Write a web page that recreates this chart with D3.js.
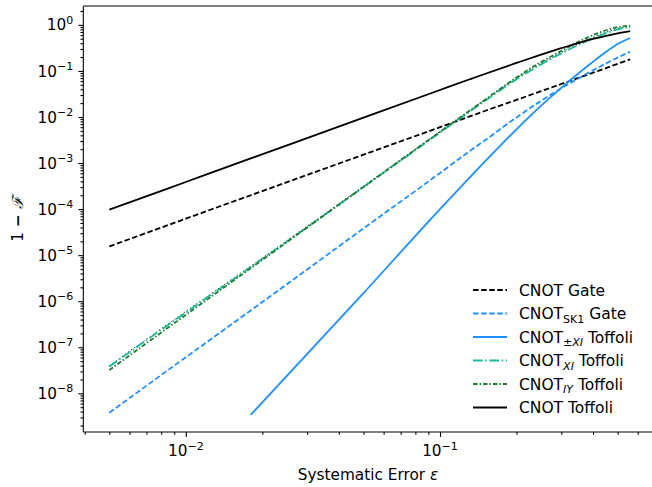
<!DOCTYPE html>
<html>
<head>
<meta charset="utf-8">
<script src="https://cdn.jsdelivr.net/npm/d3@7"></script>
<style>
  body { margin: 0; background: #fff; }
  svg { font-family: "DejaVu Sans", sans-serif; }
</style>
</head>
<body>
<script>
// systematic error values (x) shared by every series
const eps = [0.005, 0.01, 0.018, 0.05, 0.1, 0.131, 0.15, 0.2, 0.25, 0.3, 0.35, 0.4, 0.45, 0.5, 0.56];

// 1 - F
const cnotGate    = [1.55e-5, 6.2e-5, 2.0e-4, 1.52e-3, 6.0e-3, 1.03e-2, 1.35e-2, 2.35e-2, 3.65e-2, 5.2e-2, 7.05e-2, 9.16e-2, 0.1153, 0.143, 0.179];
const cnotSK1Gate = [3.8e-9, 6.08e-8, 6.3e-7, 3.8e-5, 6.08e-4, 1.83e-3, 3.1e-3, 9.8e-3, 0.0225, 0.042, 0.0688, 0.1034, 0.1456, 0.1945, 0.261];
const cnotPmXI    = [null, null, 3.4e-9, 1.5e-6, 1.0e-4, 4.9e-4, 1.07e-3, 5.4e-3, 0.0176, 0.043, 0.088, 0.158, 0.26, 0.385, 0.52];
const cnotXI      = [3.8e-8, 5.7e-7, 5.5e-6, 3.0e-4, 4.6e-3, 0.0132, 0.0222, 0.066, 0.139, 0.240, 0.367, 0.512, 0.66, 0.794, 0.894];
const cnotIY      = [3.2e-8, 5.05e-7, 5.2e-6, 3.03e-4, 4.75e-3, 0.0138, 0.0235, 0.072, 0.157, 0.271, 0.43, 0.60, 0.764, 0.895, 0.963];
const cnotToffoli = [9.7e-5, 3.88e-4, 1.257e-3, 9.7e-3, 0.0386, 0.0659, 0.0859, 0.149, 0.226, 0.312, 0.403, 0.494, 0.58, 0.656, 0.733];

const xMajor = [0.01, 0.1];
const yMajor = [1e-8, 1e-7, 1e-6, 1e-5, 1e-4, 1e-3, 1e-2, 1e-1, 1];

const series = [
  {name: "CNOT", sub: "", rest: " Gate", v: cnotGate, color: "#000", dash: "5.5,2.6"},
  {name: "CNOT", sub: "SK1", subItalic: false, rest: " Gate", v: cnotSK1Gate, color: "#1e8fff", dash: "5.5,2.6"},
  {name: "CNOT", sub: "±XI", subItalic: true, rest: " Toffoli", v: cnotPmXI, color: "#1e8fff", dash: null},
  {name: "CNOT", sub: "XI", subItalic: true, rest: " Toffoli", v: cnotXI, color: "#1abc9c", dash: "9.6,2.6,1.6,2.6"},
  {name: "CNOT", sub: "IY", subItalic: true, rest: " Toffoli", v: cnotIY, color: "#1e7b34", dash: "4.5,2,1.5,2"},
  {name: "CNOT", sub: "", rest: " Toffoli", v: cnotToffoli, color: "#000", dash: null}
];

const svg = d3.select("body").append("svg")
  .attr("width", 652)
  .attr("height", 487);

const mLeft = 83.3, mRight = 654, mTop = 6, mBottom = 432;

const x = d3.scaleLog().domain([0.00395, 0.695]).range([mLeft, mRight]);
const y = d3.scaleLog().domain([Math.pow(10, -8.84), Math.pow(10, 0.41)]).range([mBottom, mTop]);

// minor ticks 2..9 per decade
let xMinor = [], yMinor = [];
for (let p = -3; p <= 0; p++) for (let k = 2; k <= 9; k++) {
  const v = k * Math.pow(10, p);
  if (v > x.domain()[0] && v < x.domain()[1]) xMinor.push(v);
}
for (let p = -9; p <= 0; p++) for (let k = 2; k <= 9; k++) {
  const v = k * Math.pow(10, p);
  if (v > y.domain()[0] && v < y.domain()[1]) yMinor.push(v);
}

const axes = svg.append("g");
axes.append("g").attr("transform", `translate(0,${mBottom})`)
  .call(d3.axisBottom(x).tickValues(xMajor).tickSize(4.9).tickFormat(""));
axes.append("g").attr("transform", `translate(0,${mBottom})`)
  .call(d3.axisBottom(x).tickValues(xMinor).tickSize(2.8).tickFormat(""));
axes.append("g").attr("transform", `translate(${mLeft},0)`)
  .call(d3.axisLeft(y).tickValues(yMajor).tickSize(4.9).tickFormat(""));
axes.append("g").attr("transform", `translate(${mLeft},0)`)
  .call(d3.axisLeft(y).tickValues(yMinor).tickSize(2.8).tickFormat(""));
axes.selectAll(".domain").remove();
axes.selectAll(".tick line").attr("stroke", "#000").attr("stroke-width", 1.1);

// tick labels 10^k
function pow10Label(sel, v) {
  const e = Math.round(Math.log10(v));
  sel.append("tspan").text("10");
  sel.append("tspan").attr("dy", -6.5).attr("font-size", 11).text(e < 0 ? "\u2212" + (-e) : String(e));
}
svg.append("g").selectAll("text").data(xMajor).join("text")
  .attr("x", d => x(d))
  .attr("y", mBottom + 24)
  .attr("text-anchor", "middle")
  .attr("font-size", 15.3)
  .each(function(d) { pow10Label(d3.select(this), d); });
svg.append("g").selectAll("text").data(yMajor).join("text")
  .attr("x", mLeft - 10)
  .attr("y", d => y(d) + 5.6)
  .attr("text-anchor", "end")
  .attr("font-size", 15.3)
  .each(function(d) { pow10Label(d3.select(this), d); });

// curves
const line = vals => d3.line()
  .defined((d, i) => vals[i] != null)
  .x((d, i) => x(eps[i]))
  .y((d, i) => y(vals[i]))
  .curve(d3.curveMonotoneX)(eps);

const plot = svg.append("g");
// faint black dotted trace sitting under the XI curve
plot.append("path")
  .attr("d", line(cnotXI))
  .attr("transform", "translate(0,-1)")
  .attr("fill", "none").attr("stroke", "#000")
  .attr("stroke-width", 1.0).attr("stroke-dasharray", "1.2,2.6");
series.forEach(s => {
  plot.append("path")
    .attr("d", line(s.v))
    .attr("fill", "none")
    .attr("stroke", s.color)
    .attr("stroke-width", 1.8)
    .attr("stroke-dasharray", s.dash);
});

// spines
const sp = svg.append("g").attr("stroke", "#000").attr("stroke-width", 1.1);
sp.append("line").attr("x1", mLeft).attr("x2", mLeft).attr("y1", mTop).attr("y2", mBottom);
sp.append("line").attr("x1", mLeft).attr("x2", mRight).attr("y1", mBottom).attr("y2", mBottom);
sp.append("line").attr("x1", mLeft).attr("x2", mRight).attr("y1", mTop).attr("y2", mTop);
sp.append("line").attr("x1", mRight).attr("x2", mRight).attr("y1", mTop).attr("y2", mBottom);

// axis titles
svg.append("text")
  .attr("x", 368).attr("y", 480)
  .attr("text-anchor", "middle")
  .attr("font-size", 15.3)
  .html('Systematic Error <tspan font-style="italic">ε</tspan>');
svg.append("text")
  .attr("transform", "translate(23,219) rotate(-90)")
  .attr("text-anchor", "middle")
  .attr("font-size", 15.3)
  .html('1 <tspan font-weight="bold">\u2212</tspan> <tspan font-style="italic" font-family="DejaVu Serif">ℱ</tspan>');

// legend
const leg = svg.append("g");
const rowY = i => 290 + i * 23.5;
series.forEach((s, i) => {
  leg.append("line")
    .attr("x1", 473).attr("x2", 507)
    .attr("y1", rowY(i)).attr("y2", rowY(i))
    .attr("stroke", s.color).attr("stroke-width", 1.8)
    .attr("stroke-dasharray", s.dash);
  const t = leg.append("text")
    .attr("x", 519).attr("y", rowY(i) + 5.5)
    .attr("font-size", 15.5);
  t.append("tspan").text(s.name);
  if (s.sub) {
    t.append("tspan").attr("dy", 3.5).attr("font-size", 11)
      .attr("font-style", s.subItalic ? "italic" : null).text(s.sub);
    t.append("tspan").attr("dy", -3.5).text(s.rest);
  } else {
    t.append("tspan").text(s.rest);
  }
});
</script>
</body>
</html>
